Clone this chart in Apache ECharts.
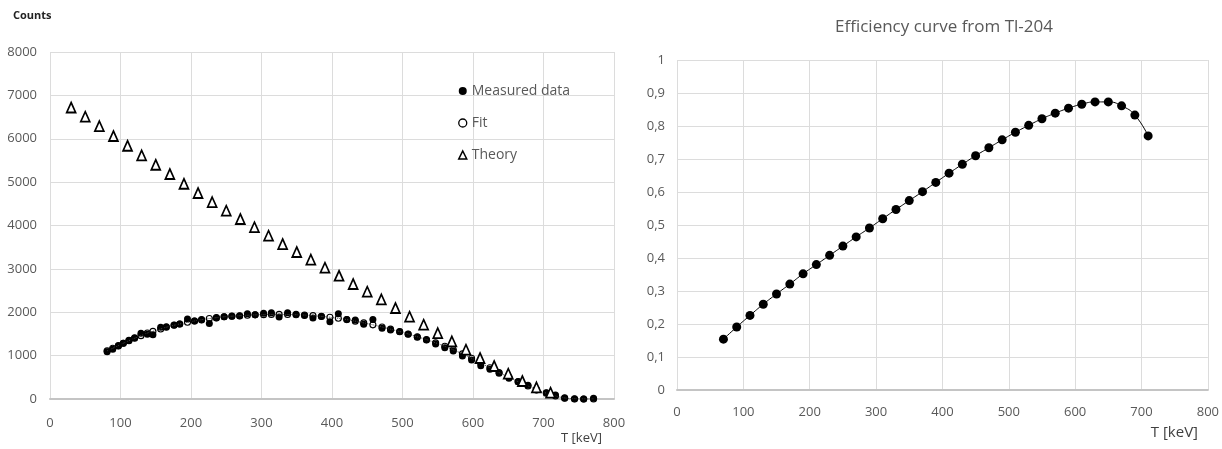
<!DOCTYPE html>
<html>
<head>
<meta charset="utf-8">
<script src="https://cdn.jsdelivr.net/npm/echarts@6/dist/echarts.min.js"></script>
<style>
html,body{margin:0;padding:0;background:#fff;}
#c{width:1222px;height:449px;}
</style>
</head>
<body>
<div id="c"></div>
<script>
// ---- Left chart: spectrum ----
var measuredX = [81,89,97,104,112,120,129,138,146,157,165,176,184,195,205,215,226,236,247,258,269,280,291,303,314,325,337,349,361,373,385,397,409,421,433,445,458,471,483,496,508,521,534,547,560,572,585,598,611,624,637,651,664,678,690,704,717,730,744,757,771];
var measuredY = [1090,1145,1222,1283,1352,1414,1514,1490,1480,1652,1668,1706,1729,1844,1798,1821,1740,1870,1898,1905,1915,1965,1945,1975,1990,1890,1990,1952,1925,1870,1900,1783,1965,1830,1820,1721,1830,1629,1591,1552,1495,1425,1360,1268,1183,1106,991,899,768,684,592,477,399,316,207,145,92,15,0,0,15];
var fitY = [1110,1170,1230,1285,1345,1400,1460,1520,1560,1615,1655,1700,1730,1770,1800,1830,1855,1875,1895,1910,1920,1930,1940,1945,1950,1950,1948,1943,1935,1922,1905,1885,1860,1830,1795,1755,1710,1660,1610,1555,1500,1435,1370,1295,1215,1135,1040,940,830,720,610,500,400,300,215,135,70,25,5,0,0];
var theoryX = [30,50,70,90,110,130,150,170,190,210,230,250,270,290,310,330,350,370,390,410,430,450,470,490,510,530,550,570,590,610,630,650,670,690,710];
var theoryY = [6720,6508,6293,6063,5839,5618,5401,5187,4963,4749,4541,4341,4150,3962,3765,3573,3389,3215,3027,2842,2651,2474,2298,2098,1898,1713,1521,1330,1137,945,761,584,415,270,145];
var leftYTicks = {min:0, max:8000, interval:1000};
var leftXTicks = {min:0, max:800, interval:100};

// ---- Right chart: efficiency ----
var effX = [70,90,110,130,150,170,190,210,230,250,270,290,310,330,350,370,390,410,430,450,470,490,510,530,550,570,590,610,630,650,670,690,710];
var effY = [0.154,0.191,0.226,0.260,0.291,0.321,0.352,0.380,0.408,0.436,0.464,0.491,0.519,0.547,0.574,0.601,0.629,0.657,0.684,0.710,0.734,0.758,0.781,0.802,0.822,0.839,0.854,0.866,0.873,0.873,0.861,0.833,0.770];
var rightYTicks = {min:0, max:1, interval:0.1};
var rightXTicks = {min:0, max:800, interval:100};

function pairs(xs, ys){ return xs.map(function(x,i){ return [x, ys[i]]; }); }

var FONT = '"Open Sans", "Noto Sans", sans-serif';
var labelColor = '#595959';
var gridColor = '#dcdcdc';

var chart = echarts.init(document.getElementById('c'), null, {renderer:'canvas'});

function xAx(idx, t, margin){
  return {
    type:'value', gridIndex:idx, min:t.min, max:t.max, interval:t.interval,
    axisLine:{show:true, lineStyle:{color:'#c4c4c4', width:2}},
    axisTick:{show:false},
    axisLabel:{color:labelColor, fontFamily:FONT, fontSize:13, margin:margin,
      formatter:function(v){ return String(v); }},
    splitLine:{show:true, lineStyle:{color:gridColor, width:1}}
  };
}

var option = {
  animation:false,
  backgroundColor:'#ffffff',
  title:[{
    text:'Efficiency curve from Tl-204',
    left:939, top:14, textAlign:'center',
    textStyle:{color:labelColor, fontFamily:FONT, fontSize:17, fontWeight:'normal'}
  }],
  legend:{
    left:453, top:79, orient:'vertical',
    itemWidth:8, itemHeight:8, itemGap:18,
    textStyle:{color:labelColor, fontFamily:FONT, fontSize:14},
    data:[
      {name:'Measured data', icon:'circle', itemStyle:{color:'#000', borderWidth:0, opacity:1}},
      {name:'Fit', icon:'circle', itemStyle:{color:'#fff', borderColor:'#000', borderWidth:1.3}},
      {name:'Theory', icon:'triangle', itemStyle:{color:'#fff', borderColor:'#000', borderWidth:1.5}}
    ]
  },
  grid:[
    {left:50, right:608, top:52, bottom:50},
    {left:677, right:12, top:60, bottom:59}
  ],
  xAxis:[ xAx(0, leftXTicks, 18), xAx(1, rightXTicks, 16) ],
  yAxis:[
    {type:'value', gridIndex:0, min:leftYTicks.min, max:leftYTicks.max, interval:leftYTicks.interval,
     axisLine:{show:false}, axisTick:{show:false},
     axisLabel:{color:labelColor, fontFamily:FONT, fontSize:13, margin:13,
       formatter:function(v){ return String(v); }},
     splitLine:{show:true, lineStyle:{color:gridColor, width:1}}},
    {type:'value', gridIndex:1, min:rightYTicks.min, max:rightYTicks.max, interval:rightYTicks.interval,
     axisLine:{show:false}, axisTick:{show:false},
     axisLabel:{color:labelColor, fontFamily:FONT, fontSize:13, margin:12,
       formatter:function(v){ return String(Math.round(v*10)/10).replace('.', ','); }},
     splitLine:{show:true, lineStyle:{color:gridColor, width:1}}}
  ],
  graphic:[
    {type:'text', left:13, top:10, style:{text:'Counts', fill:'#222', font:'bold 11px ' + FONT}},
    {type:'text', right:620, top:432, style:{text:'T [keV]', fill:'#404040', font:'13px ' + FONT}},
    {type:'text', right:24, top:425, style:{text:'T [keV]', fill:'#404040', font:'15px ' + FONT}}
  ],
  series:[
    {name:'Measured data', type:'scatter', xAxisIndex:0, yAxisIndex:0,
     symbol:'circle', symbolSize:7, itemStyle:{color:'#000', opacity:1},
     data:pairs(measuredX, measuredY), z:2},
    {name:'Fit', type:'line', xAxisIndex:0, yAxisIndex:0, smooth:true,
     symbol:'circle', symbolSize:6, showAllSymbol:true,
     lineStyle:{color:'#444', width:1, type:'dotted'},
     itemStyle:{color:'rgba(0,0,0,0)', borderColor:'#000', borderWidth:1.1},
     data:pairs(measuredX, fitY), z:3},
    {name:'Theory', type:'scatter', xAxisIndex:0, yAxisIndex:0,
     symbol:'triangle', symbolSize:[9,10],
     itemStyle:{color:'#fff', borderColor:'#000', borderWidth:1.7, opacity:1},
     data:pairs(theoryX, theoryY), z:4},
    {name:'Efficiency', type:'line', xAxisIndex:1, yAxisIndex:1, smooth:true,
     symbol:'circle', symbolSize:9, showAllSymbol:true,
     lineStyle:{color:'#000', width:1},
     itemStyle:{color:'#000'},
     data:pairs(effX, effY)}
  ]
};
chart.setOption(option);
</script>
</body>
</html>
